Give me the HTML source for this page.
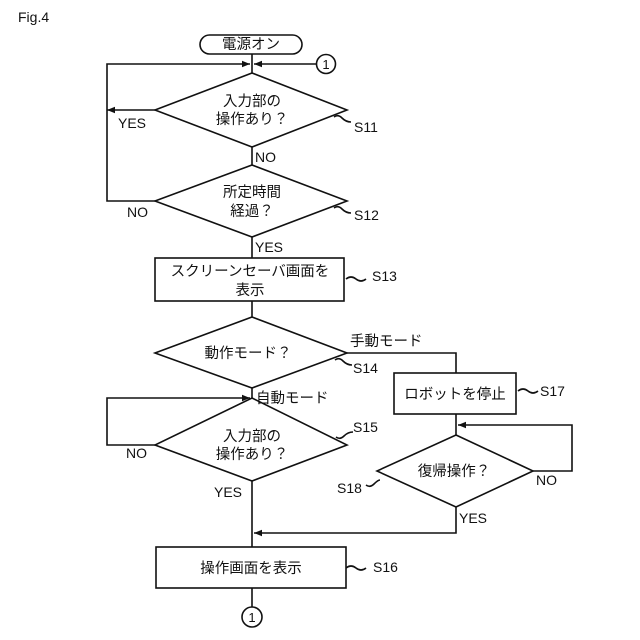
<!DOCTYPE html>
<html><head><meta charset="utf-8"><style>
html,body{margin:0;padding:0;background:#fff;}
svg{display:block;}
text{font-family:"Liberation Sans","Noto Sans CJK JP",sans-serif;font-size:14px;fill:#111;}
.j{font-size:14.5px;}
</style></head><body>
<svg width="640" height="640" viewBox="0 0 640 640" xmlns="http://www.w3.org/2000/svg">
<defs><marker id="a" viewBox="0 0 10 10" refX="10" refY="5" markerWidth="8" markerHeight="8" orient="auto" markerUnits="userSpaceOnUse"><path d="M0,1 L10,5 L0,9 z" fill="#111"/></marker></defs>
<g stroke="#111" stroke-width="1.6" fill="none">
<rect x="200" y="35" width="102" height="19" rx="9.5"/>
<line x1="252" y1="54" x2="252" y2="73"/>
<polyline points="155,110 107,110"  marker-end="url(#a)"/>
<polyline points="107,110 107,64 250,64" marker-end="url(#a)"/>
<line x1="316" y1="64" x2="254" y2="64" marker-end="url(#a)"/>
<circle cx="326" cy="64" r="9.5"/>
<polygon points="252,73 347,110 252,147 155,110"/>
<line x1="252" y1="147" x2="252" y2="165"/>
<polygon points="252,165 347,201 252,237 155,201"/>
<polyline points="155,201 107,201 107,110"/>
<line x1="252" y1="237" x2="252" y2="258"/>
<rect x="155" y="258" width="189" height="43"/>
<line x1="252" y1="301" x2="252" y2="317"/>
<polygon points="252,317 347,353 252,388 155,353"/>
<polyline points="347,353 456,353 456,373"/>
<rect x="394" y="373" width="122" height="41"/>
<line x1="252" y1="388" x2="252" y2="398"/>
<polyline points="155,445 107,445 107,398 250,398" marker-end="url(#a)"/>
<polygon points="252,398 347,445 252,481 155,445"/>
<line x1="252" y1="481" x2="252" y2="547"/>
<line x1="456" y1="414" x2="456" y2="435"/>
<polyline points="533,471 572,471 572,425 458,425" marker-end="url(#a)"/>
<polygon points="456,435 533,471 456,507 377,471"/>
<polyline points="456,507 456,533 254,533" marker-end="url(#a)"/>
<rect x="156" y="547" width="190" height="41"/>
<line x1="252" y1="588" x2="252" y2="607"/>
<circle cx="252" cy="617" r="10"/>
<path d="M334,117 q4,-3 8,1 t9,4" />
<path d="M334,208 q4,-3 8,1 t9,4" />
<path d="M346,279 q5,-4 10,0 t10,0" />
<path d="M335,360 q4,-3 8,1 t9,4" />
<path d="M336,437 q4,3 8,-1 t9,-4" />
<path d="M518,391 q5,-4 10,0 t10,0" />
<path d="M366,485 q4,3 8,-1 t6,-4" />
<path d="M346,568 q5,-4 10,0 t10,0" />
</g>
<text x="18" y="22" style="font-size:14px">Fig.4</text>
<text class="j" x="251" y="49" text-anchor="middle">電源オン</text>
<text x="326" y="69" text-anchor="middle" style="font-size:13px">1</text>
<text class="j" x="252" y="106" text-anchor="middle">入力部の</text>
<text class="j" x="252" y="124" text-anchor="middle">操作あり？</text>
<text x="118" y="128">YES</text>
<text x="354" y="132">S11</text>
<text x="255" y="162">NO</text>
<text class="j" x="252" y="197" text-anchor="middle">所定時間</text>
<text class="j" x="252" y="216" text-anchor="middle">経過？</text>
<text x="127" y="217">NO</text>
<text x="354" y="220">S12</text>
<text x="255" y="252">YES</text>
<text class="j" x="250" y="276" text-anchor="middle">スクリーンセーバ画面を</text>
<text class="j" x="250" y="295" text-anchor="middle">表示</text>
<text x="372" y="281">S13</text>
<text class="j" x="248" y="358" text-anchor="middle">動作モード？</text>
<text class="j" x="350" y="346">手動モード</text>
<text x="353" y="373">S14</text>
<text class="j" x="455" y="399" text-anchor="middle">ロボットを停止</text>
<text x="540" y="396">S17</text>
<text class="j" x="256" y="403">自動モード</text>
<text x="353" y="432">S15</text>
<text class="j" x="252" y="441" text-anchor="middle">入力部の</text>
<text class="j" x="252" y="459" text-anchor="middle">操作あり？</text>
<text x="126" y="458">NO</text>
<text x="214" y="497">YES</text>
<text class="j" x="454" y="476" text-anchor="middle">復帰操作？</text>
<text x="536" y="485">NO</text>
<text x="337" y="493">S18</text>
<text x="459" y="523">YES</text>
<text class="j" x="251" y="573" text-anchor="middle">操作画面を表示</text>
<text x="373" y="572">S16</text>
<text x="252" y="622" text-anchor="middle" style="font-size:13px">1</text>
</svg>
</body></html>
